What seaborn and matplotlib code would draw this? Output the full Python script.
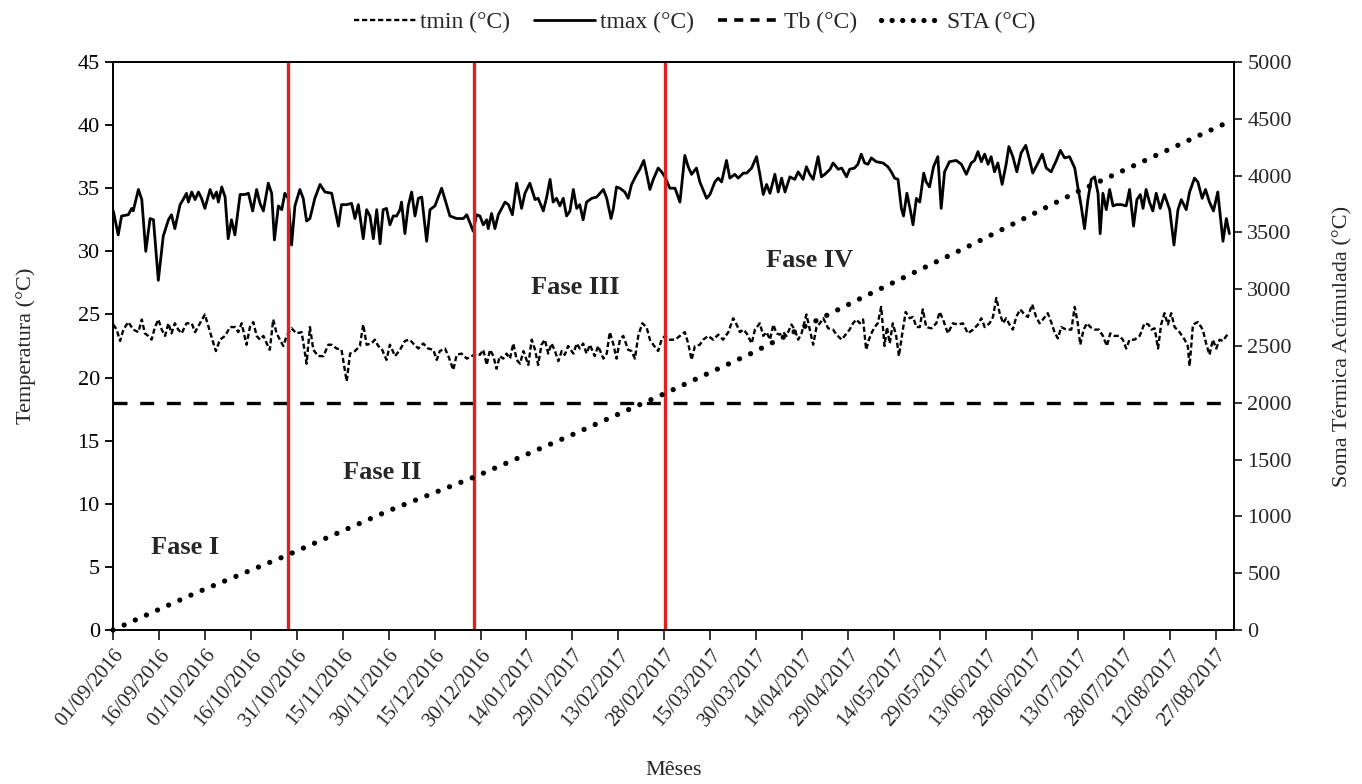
import matplotlib
matplotlib.use("Agg")
import matplotlib.pyplot as plt
import seaborn as sns
from matplotlib.lines import Line2D

# ---------------- data ----------------
tick_labels = ["01/09/2016", "16/09/2016", "01/10/2016", "16/10/2016", "31/10/2016",
               "15/11/2016", "30/11/2016", "15/12/2016", "30/12/2016", "14/01/2017",
               "29/01/2017", "13/02/2017", "28/02/2017", "15/03/2017", "30/03/2017",
               "14/04/2017", "29/04/2017", "14/05/2017", "29/05/2017", "13/06/2017",
               "28/06/2017", "13/07/2017", "28/07/2017", "12/08/2017", "27/08/2017"]
tick_days = [15 * i for i in range(len(tick_labels))]   # days since 01/09/2016

tmax_day = [0.1, 1.7, 2.8, 5.0, 6.1, 6.6, 8.3, 9.4, 10.7, 12.1, 13.2, 14.8, 16.4, 18.1, 19.1, 20.2,
            21.9, 22.9, 24.0, 24.6, 25.7, 26.8, 27.9, 28.9, 30.0, 31.7, 32.8, 33.8, 34.4, 35.5, 36.6,
            37.6, 38.7, 39.8, 41.5, 43.1, 44.2, 45.6, 46.9, 48.0, 49.1, 50.7, 51.8, 52.7, 54.0, 55.1,
            56.1, 57.2, 58.3, 59.4, 61.0, 62.1, 63.2, 64.3, 65.9, 67.6, 69.2, 71.4, 73.6, 74.6, 76.3,
            77.9, 79.0, 80.1, 81.7, 82.8, 83.9, 85.0, 86.1, 87.2, 88.2, 89.3, 90.4, 91.5, 92.6, 93.7,
            94.2, 95.3, 96.4, 97.5, 98.6, 99.7, 100.8, 102.4, 103.5, 105.1, 107.3, 108.4, 110.0, 112.2,
            114.4, 115.5, 117.6, 118.7, 119.8, 120.9, 122.0, 122.5, 123.6, 124.7, 125.8, 126.9, 128.0,
            129.1, 130.4, 131.8, 133.4, 134.5, 136.1, 137.8, 138.8, 140.5, 141.6, 142.7, 143.7, 144.8,
            145.9, 147.0, 148.1, 149.2, 150.3, 151.4, 152.4, 153.5, 154.6, 156.3, 157.9, 160.1, 161.2,
            162.6, 163.3, 164.4, 165.5, 167.1, 168.2, 169.3, 171.0, 172.0, 173.3, 174.2, 175.3, 176.4,
            178.0, 179.1, 180.2, 181.8, 183.5, 185.1, 186.7, 187.8, 188.9, 190.5, 191.6, 193.8, 194.9,
            196.5, 197.6, 198.7, 200.3, 201.4, 203.0, 204.1, 205.8, 206.9, 208.5, 210.1, 211.2, 212.3,
            213.4, 214.5, 216.1, 217.2, 218.3, 219.4, 221.0, 222.6, 223.7, 225.3, 226.4, 227.5, 228.6,
            230.2, 231.3, 232.4, 234.1, 235.1, 236.8, 237.9, 239.5, 240.5, 242.1, 243.2, 244.3, 245.4,
            246.5, 247.6, 249.2, 251.4, 253.0, 254.1, 255.2, 256.3, 257.4, 258.1, 259.2, 260.3, 261.2,
            262.3, 263.4, 264.7, 265.5, 266.6, 267.9, 269.3, 270.4, 271.5, 273.1, 275.3, 277.0, 278.6,
            280.2, 281.3, 282.4, 283.5, 284.6, 285.7, 286.7, 287.8, 288.9, 290.3, 291.6, 292.5, 293.8,
            295.1, 296.5, 298.0, 299.3, 300.3, 302.0, 303.4, 304.7, 306.3, 308.0, 309.3, 310.7, 312.3,
            314.0, 315.0, 316.1, 317.2, 318.3, 319.4, 320.5, 321.6, 322.3, 323.2, 324.3, 325.4, 326.5,
            327.6, 329.2, 330.8, 331.9, 333.2, 334.3, 335.4, 336.3, 337.3, 338.4, 339.5, 340.6, 341.9,
            343.3, 345.0, 346.4, 347.7, 348.8, 350.4, 351.5, 353.1, 354.2, 355.6, 356.7, 358.0, 359.3,
            360.7, 362.4, 363.5, 364.5]
tmax_val = [33.2, 31.3, 32.8, 32.9, 33.4, 33.2, 34.9, 34.1, 30.0, 32.6, 32.5, 27.7, 31.2, 32.5, 32.9, 31.8,
            33.7, 34.1, 34.6, 33.9, 34.7, 34.1, 34.7, 34.2, 33.4, 34.9, 34.2, 34.7, 33.9, 35.1, 34.3,
            31.0, 32.5, 31.3, 34.5, 34.5, 34.6, 33.2, 34.9, 33.8, 33.2, 35.4, 34.6, 30.9, 33.6, 33.3,
            34.6, 34.2, 30.5, 33.6, 34.9, 34.2, 32.4, 32.6, 34.2, 35.3, 34.7, 34.6, 32.0, 33.7, 33.7,
            33.8, 32.6, 33.7, 31.0, 33.3, 32.8, 31.0, 33.3, 30.6, 33.3, 33.4, 32.1, 32.8, 32.8, 33.3,
            33.9, 31.4, 33.6, 34.7, 32.8, 34.2, 34.3, 30.8, 33.3, 33.6, 35.0, 34.1, 32.8, 32.6,
            32.6, 32.9, 31.6, 32.9, 32.8, 32.1, 32.5, 31.8, 33.0, 31.8, 32.9, 33.4, 33.9,
            33.7, 32.9, 35.4, 33.4, 34.6, 35.4, 34.1, 34.2, 33.2, 34.3, 35.7, 33.9, 34.2,
            33.6, 34.2, 32.8, 33.2, 34.9, 33.4, 33.7, 32.5, 33.9, 34.2, 34.3, 34.9, 34.2,
            32.6, 33.3, 35.1, 35.0, 34.7, 34.2, 35.3, 36.1, 36.5, 37.2, 36.2, 34.9, 35.7,
            36.6, 36.3, 35.9, 35.0, 35.0, 33.9, 37.6, 36.7, 36.1, 36.6, 35.5, 34.2, 34.5,
            35.5, 35.8, 35.5, 37.2, 35.8, 36.1, 35.8, 36.2, 36.2, 36.6, 37.5, 36.1, 34.5,
            35.3, 34.6, 36.1, 34.7, 35.8, 34.7, 35.9, 35.7, 36.3, 35.7, 36.7, 36.1, 35.7,
            37.5, 35.9, 36.1, 36.5, 37.0, 36.5, 36.6, 35.9, 36.5, 36.6, 36.9, 37.7, 37.0,
            36.9, 37.4, 37.1, 37.0, 36.7, 36.3, 35.8, 35.7, 33.4, 32.8, 34.6, 33.3, 32.1,
            34.2, 33.9, 36.2, 35.5, 35.1, 36.7, 37.5, 33.4, 36.3, 37.1, 37.2, 36.9, 36.1,
            37.0, 37.2, 37.9, 37.1, 37.7, 36.9, 37.5, 36.3, 37.0, 35.3, 36.9, 38.3, 37.5,
            36.3, 37.8, 38.4, 37.2, 36.2, 37.0, 37.7, 36.6, 36.3, 37.2, 38.0, 37.4, 37.5,
            36.6, 35.1, 33.6, 31.8, 34.1, 35.7, 35.9, 34.6, 31.4, 34.6, 33.3, 34.9, 33.6,
            33.7, 33.7, 33.6, 34.9, 32.0, 34.1, 34.5, 33.4, 34.9, 33.9, 33.2, 34.6, 33.4,
            34.5, 33.3, 30.5, 33.3, 34.1, 33.3, 34.7, 35.8, 35.5, 34.2, 34.9, 33.9, 33.2,
            34.7, 30.8, 32.6, 31.4]

tmin_day = [0.1, 1.2, 2.3, 3.4, 5.0, 6.6, 8.3, 9.4, 10.4, 11.5, 12.6, 13.7, 14.8, 15.9, 17.0, 18.1,
            19.1, 20.2, 21.3, 22.4, 24.0, 25.7, 26.8, 28.4, 30.0, 31.7, 32.8, 33.6, 34.9, 36.6, 38.2,
            39.8, 40.9, 42.0, 43.6, 44.7, 45.8, 46.9, 48.0, 49.1, 50.2, 51.2, 52.3, 53.4, 54.5, 55.6,
            56.7, 58.3, 59.9, 61.6, 63.2, 64.3, 65.4, 67.0, 68.7, 70.3, 71.4, 73.0, 74.6, 76.3, 77.4,
            79.0, 80.6, 81.7, 82.8, 84.4, 85.5, 86.6, 87.7, 89.3, 90.4, 92.1, 93.7, 95.3, 96.9, 98.0,
            99.7, 101.3, 102.9, 104.6, 105.7, 106.7, 108.4, 109.5, 111.1, 112.2, 113.8, 115.5, 117.1,
            118.7, 119.8, 120.9, 122.0, 123.1, 124.2, 125.2, 126.3, 127.4, 128.5, 129.6, 130.7, 131.8,
            132.9, 134.0, 135.6, 136.7, 137.8, 138.8, 139.9, 141.0, 142.1, 143.2, 144.3, 145.4, 146.5,
            147.5, 148.6, 150.3, 151.4, 152.4, 153.5, 154.6, 155.7, 157.3, 158.4, 160.1, 161.2, 162.2,
            163.3, 164.4, 165.5, 166.6, 168.2, 169.3, 170.4, 171.5, 172.8, 174.2, 175.3, 176.4, 178.0,
            179.1, 180.2, 181.8, 183.5, 185.1, 186.7, 187.8, 188.9, 190.0, 191.6, 192.7, 194.3, 196.0,
            197.6, 199.2, 200.9, 202.5, 203.6, 204.7, 205.8, 206.9, 208.5, 209.6, 211.2, 212.3, 213.4,
            214.5, 215.6, 216.6, 217.7, 218.8, 219.9, 221.5, 222.6, 223.7, 224.8, 226.4, 227.5, 228.6,
            229.7, 230.8, 231.9, 233.5, 235.1, 236.2, 237.9, 239.5, 240.5, 241.6, 242.7, 243.8, 244.9,
            245.9, 246.8, 247.6, 248.7, 249.7, 250.8, 251.9, 252.7, 253.6, 254.6, 255.7, 256.6, 257.7,
            258.8, 260.1, 261.2, 262.3, 263.4, 264.4, 265.5, 267.2, 268.8, 269.9, 271.0, 272.6, 274.2,
            275.9, 277.5, 279.1, 280.8, 282.4, 283.5, 284.6, 286.2, 287.3, 288.4, 289.5, 290.6, 291.6,
            292.7, 293.8, 294.9, 296.2, 297.6, 298.7, 300.1, 301.4, 302.5, 303.6, 305.2, 306.3, 307.4,
            308.5, 309.6, 311.2, 312.9, 314.0, 315.0, 315.8, 316.9, 318.0, 319.1, 320.5, 321.9, 323.2,
            324.5, 325.6, 327.0, 328.6, 329.7, 330.8, 331.9, 333.5, 335.2, 336.8, 338.1, 339.0, 340.1,
            341.2, 342.2, 343.3, 344.4, 345.5, 346.6, 348.2, 349.9, 350.9, 351.5, 352.6, 354.2, 355.8,
            356.9, 358.0, 359.1, 360.2, 361.3, 362.4, 363.5, 364.5]
tmin_val = [24.2, 23.8, 22.9, 23.8, 24.4, 23.8, 23.6, 24.6, 23.5, 23.3, 23.0, 24.0, 24.6, 23.8, 23.3, 24.3,
            23.5, 24.3, 23.8, 23.5, 24.3, 24.3, 23.6, 24.3, 25.0, 23.6, 22.7, 22.1, 23.0, 23.3, 24.0,
            24.0, 23.6, 24.3, 22.6, 24.0, 24.4, 23.3, 23.0, 23.3, 22.7, 22.2, 24.6, 23.5, 23.0, 22.5,
            23.3, 23.9, 23.5, 23.6, 21.1, 24.0, 22.2, 21.7, 21.7, 22.6, 22.6, 22.3, 22.2, 19.7, 21.9,
            22.1, 22.5, 24.2, 22.6, 22.7, 23.0, 22.5, 22.3, 21.4, 22.6, 21.7, 22.2, 22.9, 23.0, 22.7,
            22.3, 22.7, 22.3, 22.2, 21.4, 22.1, 22.3, 21.7, 20.6, 21.8, 21.9, 21.5, 21.7,
            21.9, 21.8, 22.2, 21.0, 22.2, 21.7, 20.7, 21.7, 21.5, 21.9, 21.5, 22.7, 21.4,
            21.1, 22.1, 21.0, 23.0, 22.2, 21.0, 22.6, 23.0, 21.9, 22.7, 22.1, 21.3, 22.1,
            21.8, 22.5, 21.9, 22.7, 22.3, 22.7, 21.9, 22.6, 21.7, 22.5, 21.5, 21.9, 23.6,
            22.7, 21.5, 23.0, 23.3, 22.2, 22.1, 21.5, 23.3, 24.3, 24.0, 23.0, 22.6, 22.1,
            23.0, 23.3, 23.0, 23.0, 23.3, 23.6, 22.7, 21.4, 22.5, 22.6, 23.0, 23.3, 23.0,
            23.4, 23.0, 23.6, 24.7, 24.2, 23.6, 23.8, 23.5, 22.7, 23.8, 24.3, 23.3, 23.6,
            23.0, 24.2, 23.5, 23.4, 23.6, 23.3, 24.2, 23.8, 23.0, 23.5, 25.0, 23.8, 22.6,
            24.0, 24.3, 24.7, 23.9, 23.8, 23.4, 23.0, 23.5, 23.8, 24.3, 24.6, 24.3, 24.6,
            22.2, 23.0, 23.5, 24.0, 24.3, 25.6, 22.5, 24.0, 22.7, 24.3, 23.3, 21.7, 23.5,
            25.2, 24.7, 24.8, 24.0, 24.0, 25.4, 24.0, 23.9, 24.3, 25.2, 24.6, 23.5, 24.3,
            24.2, 24.3, 23.5, 23.8, 24.2, 24.7, 24.0, 24.3, 24.8, 26.3, 25.1, 24.3, 24.7,
            24.2, 23.8, 24.8, 25.4, 25.0, 24.8, 25.8, 24.8, 24.3, 24.6, 25.1, 24.4, 23.6,
            23.1, 24.0, 23.8, 23.8, 25.6, 24.3, 22.6, 23.8, 24.3, 24.0, 23.8, 23.8, 23.3,
            22.5, 23.5, 23.3, 23.3, 23.0, 22.3, 23.0, 23.0, 23.3, 24.3, 24.2, 23.8, 23.9,
            22.3, 24.2, 25.1, 24.2, 25.1, 24.0, 23.6, 23.0, 22.5, 20.9, 24.2, 24.4, 23.8,
            22.7, 21.8, 23.0, 22.3, 23.0, 22.9, 23.3, 23.5]

tb_value = 18.0

sta_day = [0, 27, 57, 90, 118, 150, 180, 208, 243, 281, 315, 364]
sta_val = [0, 326, 660, 1050, 1347, 1720, 2080, 2430, 2905, 3400, 3860, 4470]

phase_limits = [57, 118, 180.3]
phase_names = ["Fase I", "Fase II", "Fase III", "Fase IV"]
phase_x = [23.5, 88, 151, 227.5]
phase_y = [6.5, 12.5, 27.1, 29.3]

# ---------------- style ----------------
sns.set_style("ticks")
plt.rcParams["font.family"] = ["Liberation Serif", "DejaVu Serif"]
plt.rcParams["axes.edgecolor"] = "black"
plt.rcParams["axes.linewidth"] = 1.3

fig = plt.figure(figsize=(13.62, 7.84), dpi=100)
L, R, T, B = 113, 1234, 62, 630
ax = fig.add_axes([L / 1362, 1 - B / 784, (R - L) / 1362, (B - T) / 784])
ax2 = ax.twinx()

# series
sns.lineplot(x=tmin_day, y=tmin_val, ax=ax, color="black", lw=1.7,
             estimator=None, sort=False)
tmin_line = ax.lines[-1]
tmin_line.set_linestyle((0, (2.2, 1.2)))

sns.lineplot(x=tmax_day, y=tmax_val, ax=ax, color="black", lw=2.0,
             estimator=None, sort=False)

ax.axhline(tb_value, color="black", lw=2.4, linestyle=(0, (4.2, 3.8)))

for d in phase_limits:
    ax.axvline(d, color="#e0201e", lw=2.4, zorder=5)

sns.lineplot(x=sta_day, y=sta_val, ax=ax2, color="black", lw=3.8,
             estimator=None, sort=False)
sta_line = ax2.lines[-1]
sta_line.set_linestyle((0, (0.01, 2.3)))
sta_line.set_dash_capstyle("round")
sta_line.set_clip_on(False)

for name, px, py in zip(phase_names, phase_x, phase_y):
    ax.text(px, py, name, ha="center", va="center", fontsize=19, fontweight="bold")

# axes
ax.set_xlim(0, 366)
ax.set_ylim(0, 45)
ax.set_yticks(range(0, 46, 5))
ax2.set_ylim(0, 5000)
ax2.set_yticks(range(0, 5001, 500))
ax.set_xticks(tick_days)
ax.set_xticklabels(tick_labels, rotation=50, ha="right", va="top",
                   rotation_mode="anchor", fontsize=15)
ax.tick_params(axis="y", labelsize=16, direction="out", length=6, width=1.3, colors="black")
ax.tick_params(axis="x", direction="out", length=7, width=1.3, pad=4)
ax2.tick_params(axis="y", labelsize=16, direction="out", length=6, width=1.3)
for a in (ax, ax2):
    for s in a.spines.values():
        s.set_visible(True)
        s.set_color("black")
        s.set_linewidth(1.3)

ax.set_ylabel("Temperatura (°C)", fontsize=16, labelpad=30)
ax2.set_ylabel("Soma Térmica Acúmulada (°C)", fontsize=16, labelpad=30)
ax.set_xlabel("Mêses", fontsize=16, labelpad=22)
ax.grid(False)
ax2.grid(False)

handles = [Line2D([], [], color="black", lw=1.7, linestyle=(0, (2.2, 1.2))),
           Line2D([], [], color="black", lw=2.0),
           Line2D([], [], color="black", lw=2.6, linestyle=(0, (2.5, 2.0))),
           Line2D([], [], color="black", lw=3.8, linestyle=(0, (0.01, 2.0)), dash_capstyle="round")]
fig.legend(handles, ["tmin (°C)", "tmax (°C)", "Tb (°C)", "STA (°C)"],
           loc="center", bbox_to_anchor=(0.51, 1 - 22 / 784), ncol=4, frameon=False,
           fontsize=17, handlelength=2.6, handletextpad=0.2, columnspacing=1.0)

fig.savefig("out.png", dpi=100)
